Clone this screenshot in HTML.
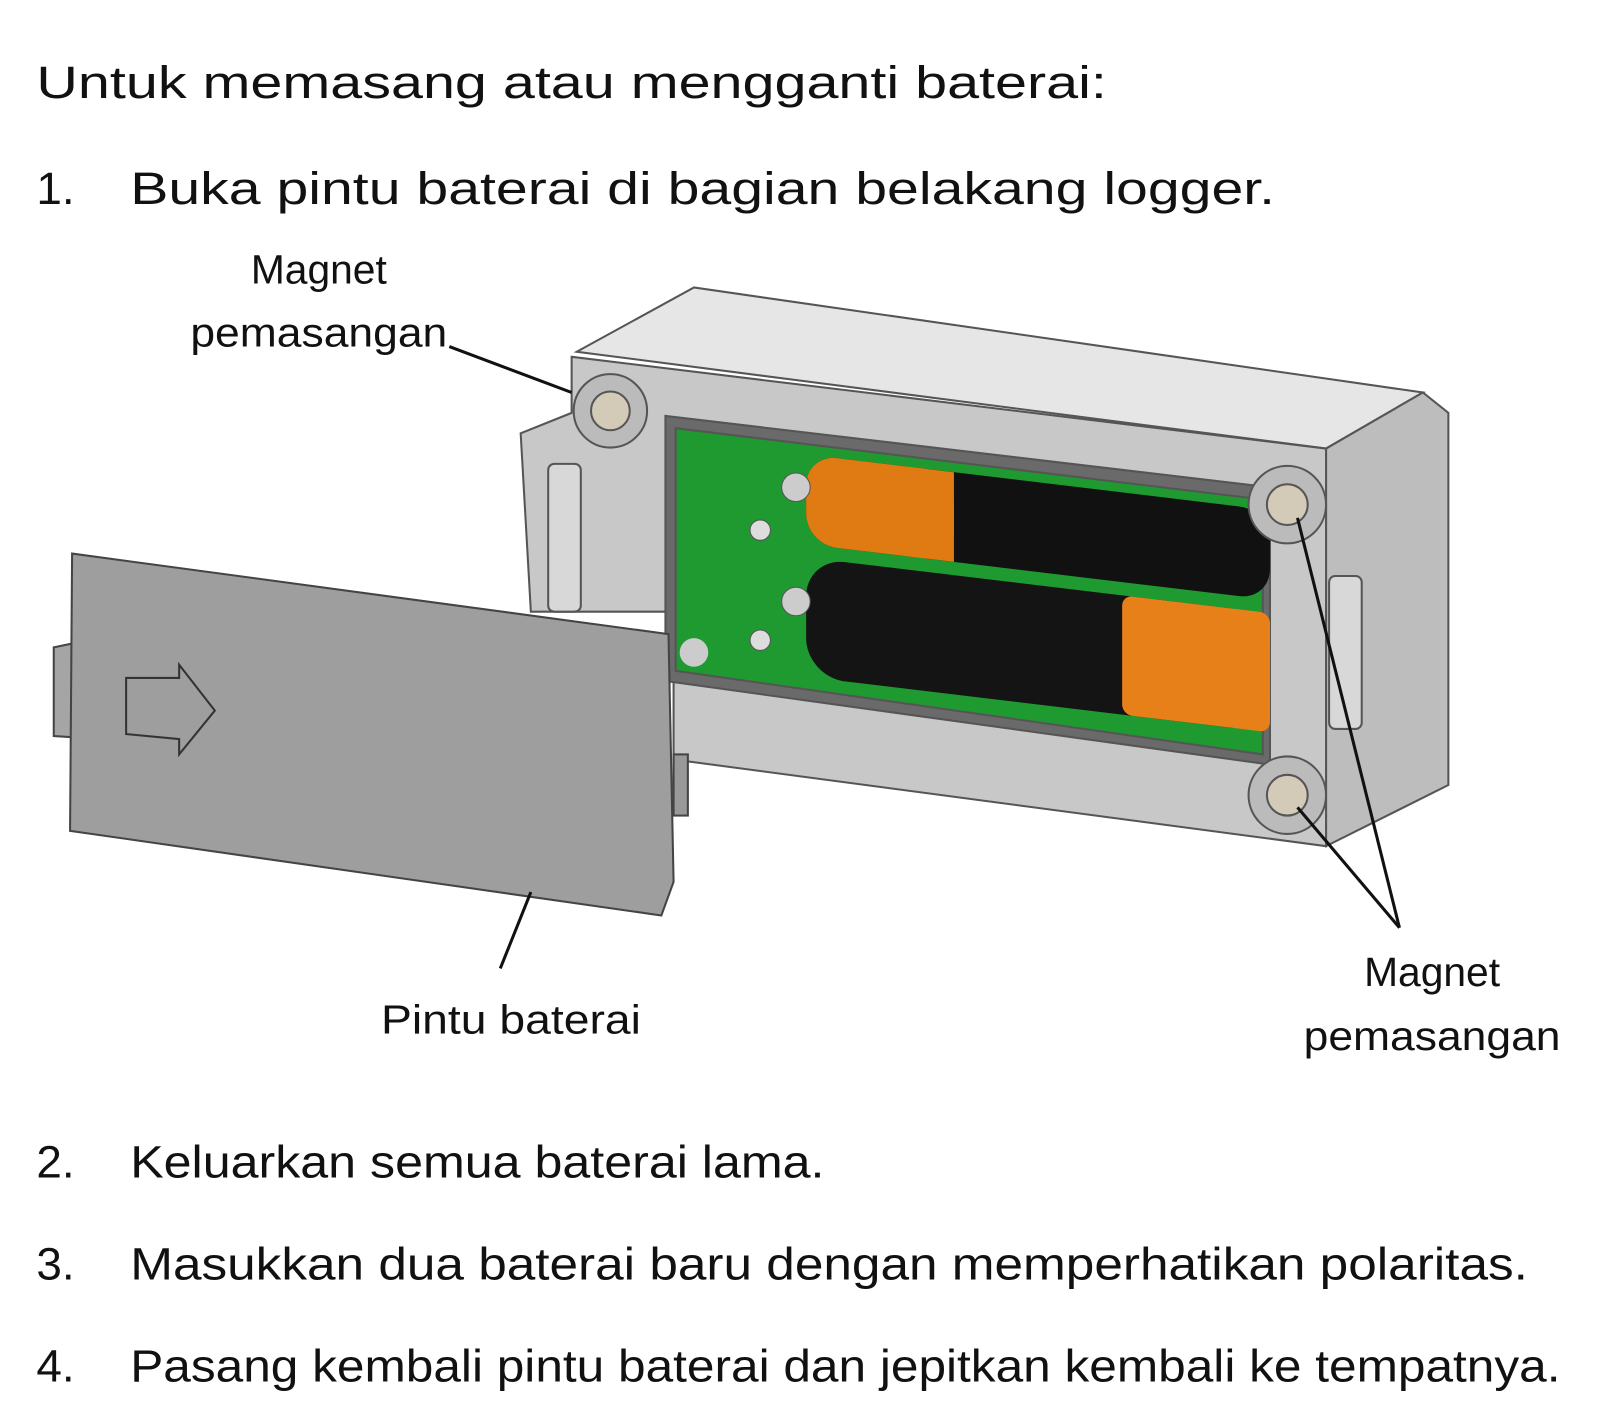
<!DOCTYPE html>
<html><head><meta charset="utf-8"><style>
html,body{margin:0;padding:0;background:#fff;}
svg{display:block;}
text{font-family:"Liberation Sans",sans-serif;fill:#111;}
</style></head><body>
<svg width="1600" height="1414" viewBox="0 0 1568 1387" xmlns="http://www.w3.org/2000/svg">
<rect width="1568" height="1387" fill="#fff"/>
<text x="35" y="96" font-size="45" textLength="1050" lengthAdjust="spacingAndGlyphs">Untuk memasang atau mengganti baterai:</text>
<text x="35" y="200" font-size="45">1.</text>
<text x="127" y="200" font-size="45" textLength="1123" lengthAdjust="spacingAndGlyphs">Buka pintu baterai di bagian belakang logger.</text>
<text x="312" y="278" font-size="40" text-anchor="middle">Magnet</text>
<text x="186" y="340" font-size="40" textLength="252" lengthAdjust="spacingAndGlyphs">pemasangan</text>
<text x="373" y="1014" font-size="40" textLength="255" lengthAdjust="spacingAndGlyphs">Pintu baterai</text>
<text x="1404" y="967" font-size="40" text-anchor="middle">Magnet</text>
<text x="1278" y="1030" font-size="40" textLength="252" lengthAdjust="spacingAndGlyphs">pemasangan</text>
<text x="35" y="1155" font-size="45">2.</text>
<text x="127" y="1155" font-size="45" textLength="681" lengthAdjust="spacingAndGlyphs">Keluarkan semua baterai lama.</text>
<text x="35" y="1255" font-size="45">3.</text>
<text x="127" y="1255" font-size="45" textLength="1371" lengthAdjust="spacingAndGlyphs">Masukkan dua baterai baru dengan memperhatikan polaritas.</text>
<text x="35" y="1355" font-size="45">4.</text>
<text x="127" y="1355" font-size="45" textLength="1403" lengthAdjust="spacingAndGlyphs">Pasang kembali pintu baterai dan jepitkan kembali ke tempatnya.</text>

<g stroke="#555" stroke-width="2">
<polygon points="565,345 680,282 1395,385 1300,440" fill="#e6e6e6"/>
<polygon points="1300,440 1395,385 1420,405 1420,770 1300,830" fill="#bdbdbd"/>
<polygon points="560,350 1300,440 1300,830 660,745 660,600 520,600 510,425 560,405" fill="#c8c8c8"/>
<rect x="537" y="455" width="32" height="145" rx="6" fill="#d8d8d8"/>
<rect x="1303" y="565" width="32" height="150" rx="6" fill="#d8d8d8"/>
<polygon points="652,408 1245,478 1245,750 652,668" fill="#6a6a6a"/>
<polygon points="662,420 1238,490 1238,740 662,658" fill="#1f9a30"/>
</g>
<g transform="matrix(1,0.12,0,1,0,-96)">
<rect x="790" y="447" width="455" height="88" rx="30" fill="#111"/>
<rect x="790" y="447" width="145" height="88" rx="30" fill="#e07a12"/>
<rect x="890" y="447" width="45" height="88" fill="#e07a12"/>
<rect x="790" y="548" width="455" height="117" rx="38" fill="#141414"/>
<rect x="1100" y="548" width="145" height="117" rx="10" fill="#e8801a"/>
</g>
<circle cx="780" cy="478" r="14" fill="#ccc" stroke="#555"/>
<circle cx="780" cy="590" r="14" fill="#ccc" stroke="#555"/>
<circle cx="745" cy="520" r="10" fill="#ddd" stroke="#555"/>
<circle cx="745" cy="628" r="10" fill="#ddd" stroke="#555"/>
<circle cx="680" cy="640" r="14" fill="#ccc"/>
<g stroke="#555" stroke-width="2">
<circle cx="598" cy="403" r="36" fill="#bbb"/><circle cx="598" cy="403" r="19" fill="#d3cbb8"/>
<circle cx="1262" cy="495" r="38" fill="#bbb"/><circle cx="1262" cy="495" r="20" fill="#d3cbb8"/>
<circle cx="1262" cy="780" r="38" fill="#bbb"/><circle cx="1262" cy="780" r="20" fill="#d3cbb8"/>
</g>
<g stroke="#444" stroke-width="2">
<rect x="660" y="740" width="14" height="60" fill="#999"/>
<polygon points="52,635 100,625 100,725 52,722" fill="#a5a5a5"/>
<polygon points="70,543 655,622 660,865 648,898 68,815" fill="#9e9e9e"/>
<polygon points="123,665 175,665 175,652 210,697 175,740 175,725 123,720" fill="none" stroke="#333"/>
</g>
<g stroke="#111" stroke-width="3">
<line x1="440" y1="340" x2="560" y2="385"/>
<line x1="520" y1="875" x2="490" y2="950"/>
<line x1="1372" y1="910" x2="1272" y2="508"/>
<line x1="1372" y1="910" x2="1272" y2="792"/>
</g>
</svg>
</body></html>
